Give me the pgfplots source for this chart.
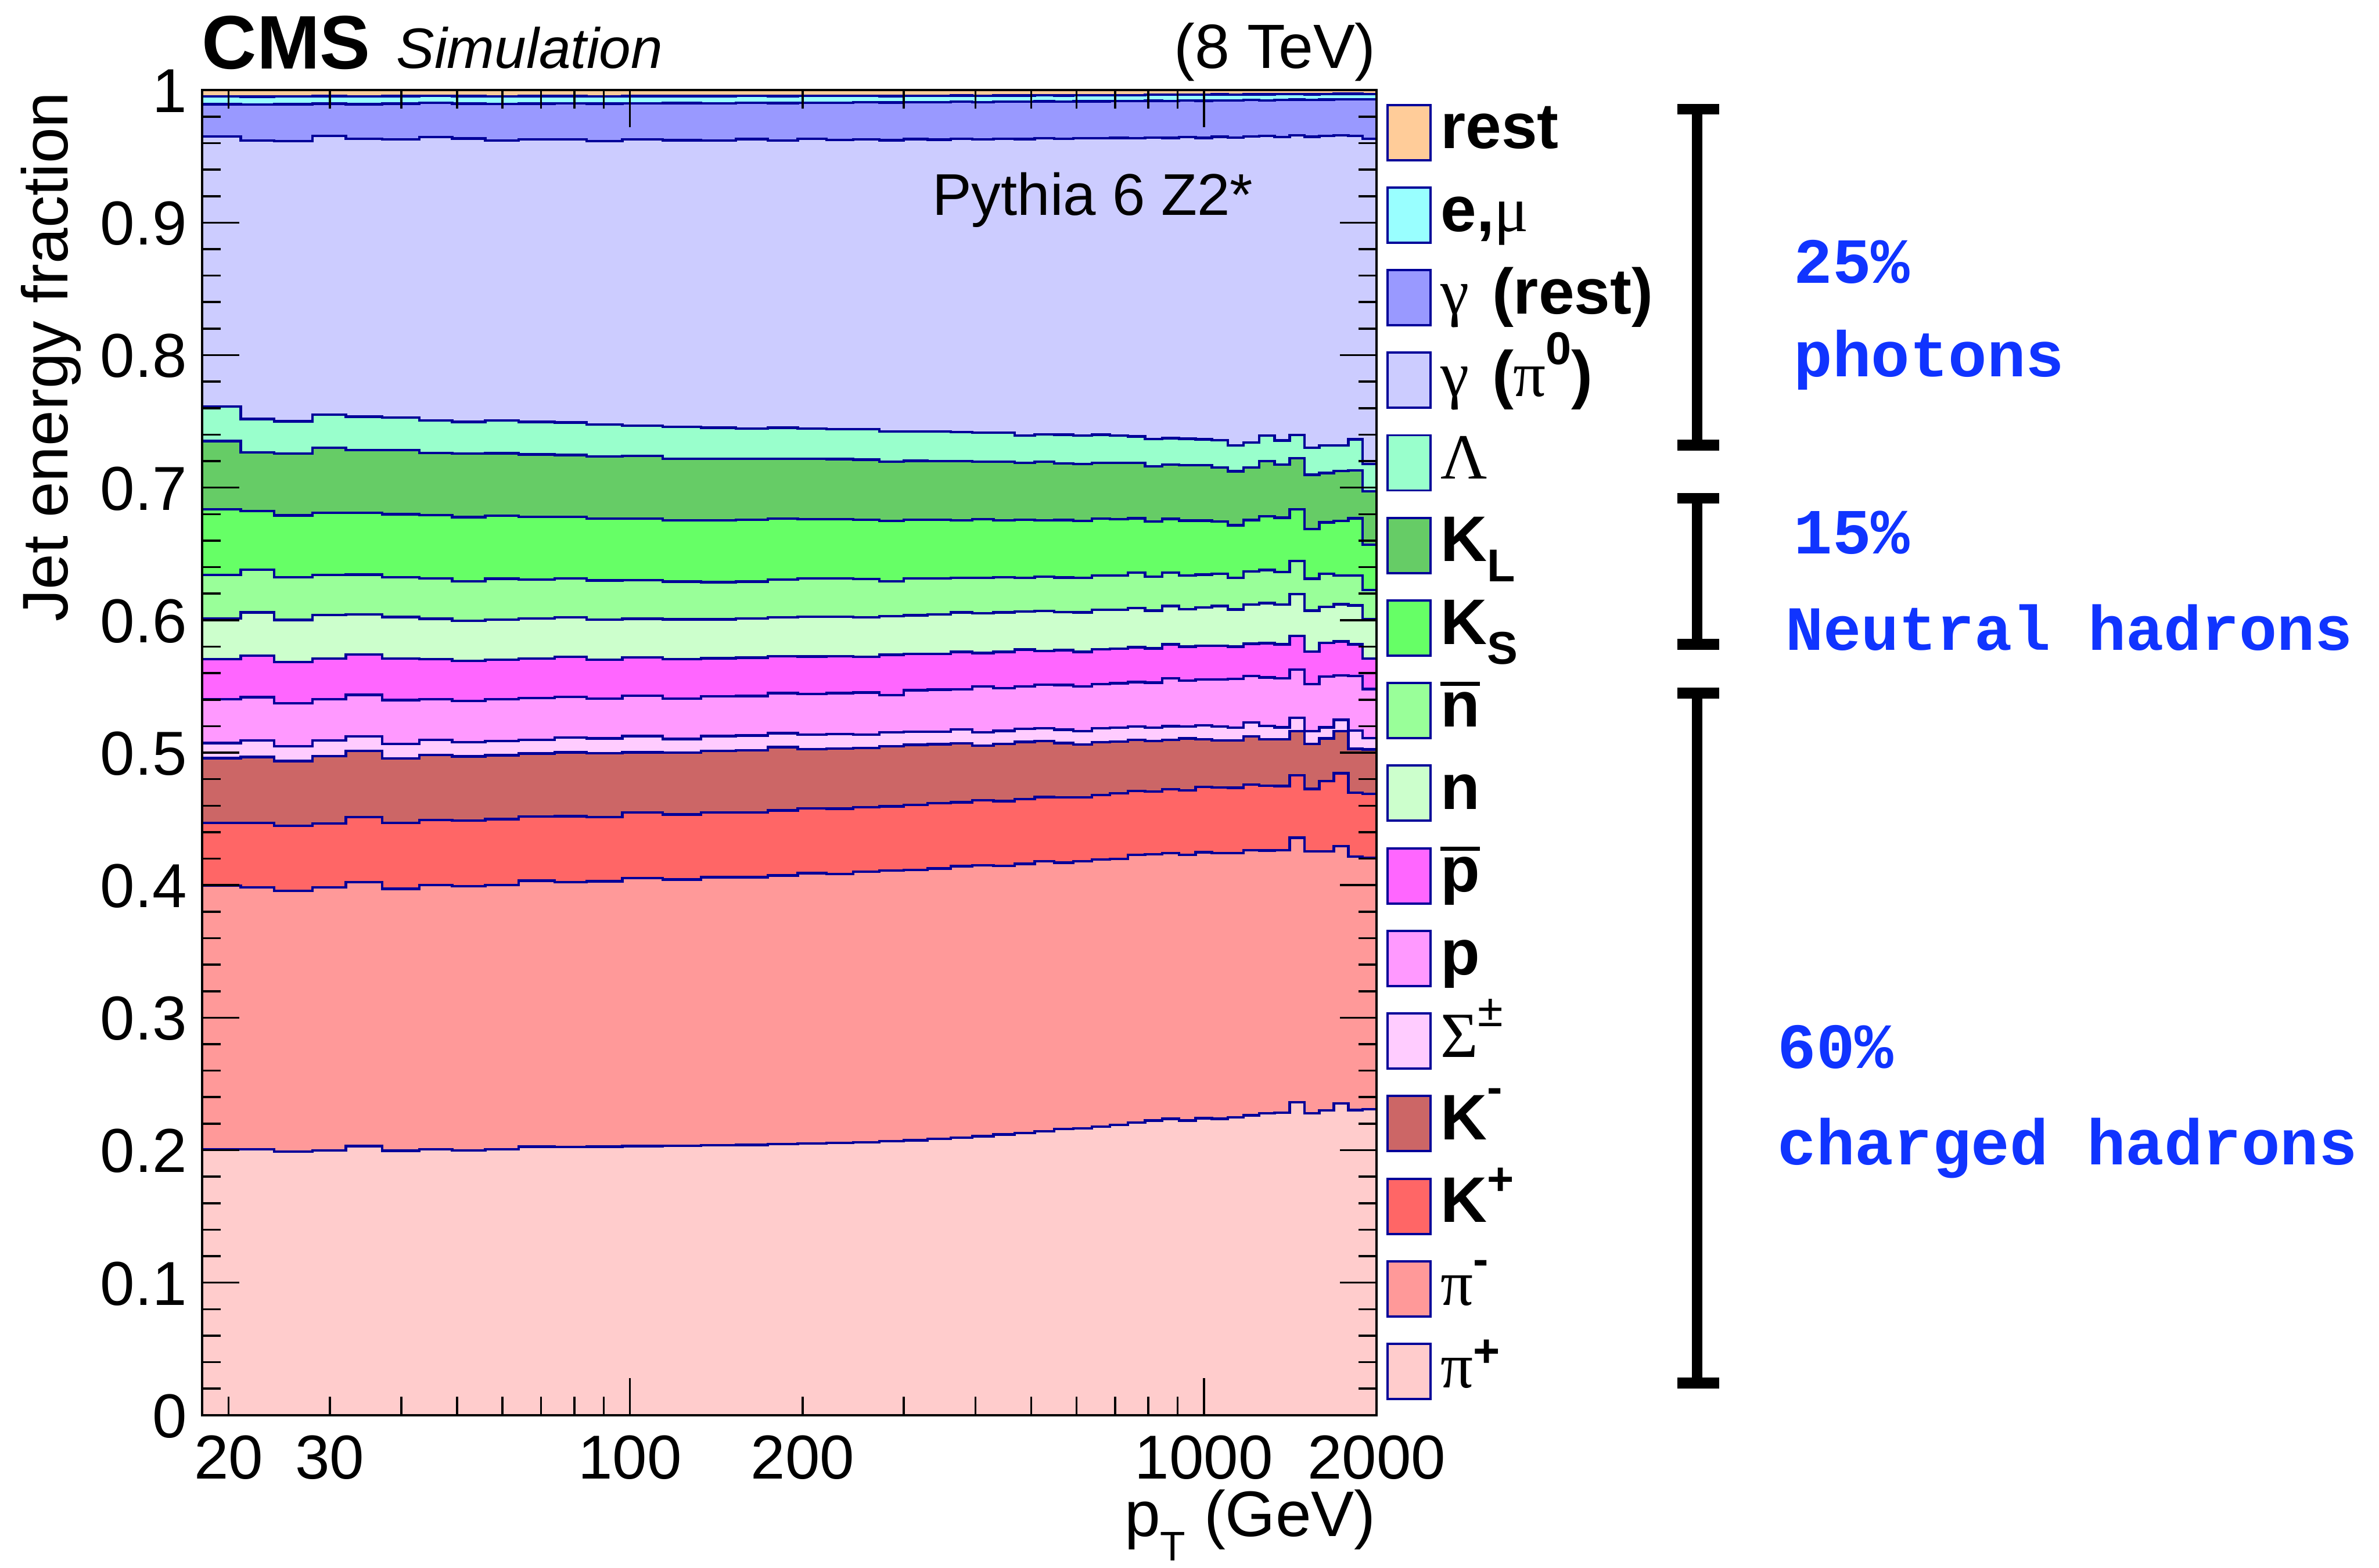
\documentclass[border=0pt]{standalone}
\usepackage{fontspec}
\setmainfont{Liberation Sans}
\newfontfamily\gr{Liberation Serif}
\newfontfamily\mono{Liberation Mono}
\usepackage{pgfplots}
\pgfplotsset{compat=1.18}
\usepackage{pgfplotstable}

\definecolor{navy}{RGB}{0,0,153}
\definecolor{tblue}{RGB}{16,52,255}
\definecolor{cRest}{HTML}{FFCC99}
\definecolor{cEmu}{HTML}{99FFFF}
\definecolor{cGrest}{HTML}{9999FF}
\definecolor{cGpi}{HTML}{CCCCFF}
\definecolor{cLam}{HTML}{99FFCC}
\definecolor{cKL}{HTML}{66CC66}
\definecolor{cKS}{HTML}{66FF66}
\definecolor{cNbar}{HTML}{99FF99}
\definecolor{cN}{HTML}{CCFFCC}
\definecolor{cPbar}{HTML}{FF66FF}
\definecolor{cP}{HTML}{FF99FF}
\definecolor{cSig}{HTML}{FFCCFF}
\definecolor{cKm}{HTML}{CC6666}
\definecolor{cKp}{HTML}{FF6666}
\definecolor{cPim}{HTML}{FF9999}
\definecolor{cPip}{HTML}{FFCCCC}

% cumulative tops of each layer, per pT bin (value held from x to next x)
\pgfplotstableread{
x    pip   pim   kp    km    sig   p     pbar  n     nbar  ks    kl    lam   gpi   grest emu   rest
18   .2008 .3996 .4471 .4958 .5073 .5402 .5707 .6013 .6340 .6836 .7351 .7611 .9650 .9893 .9952 1
21   .2006 .3982 .4471 .4967 .5091 .5418 .5733 .6058 .6380 .6824 .7267 .7518 .9619 .9890 .9950 1
24   .1990 .3956 .4447 .4936 .5049 .5373 .5684 .6002 .6324 .6791 .7256 .7500 .9614 .9893 .9952 1
28   .1998 .3982 .4465 .4973 .5091 .5404 .5711 .6038 .6340 .6809 .7302 .7551 .9655 .9898 .9955 1
32   .2031 .4022 .4513 .5013 .5124 .5436 .5740 .6044 .6344 .6809 .7284 .7536 .9633 .9893 .9952 1
37   .1995 .3973 .4471 .4956 .5067 .5396 .5709 .6024 .6324 .6800 .7284 .7529 .9627 .9898 .9955 1
43   .2008 .4000 .4491 .4982 .5096 .5404 .5707 .6011 .6316 .6793 .7262 .7507 .9645 .9905 .9958 1
49   .1998 .3993 .4487 .4971 .5078 .5389 .5693 .5996 .6293 .6778 .7256 .7496 .9635 .9898 .9955 1
56   .2008 .4000 .4498 .4980 .5087 .5402 .5700 .6004 .6313 .6789 .7260 .7507 .9619 .9896 .9952 1
64   .2027 .4033 .4518 .4993 .5096 .5411 .5711 .6013 .6307 .6780 .7251 .7496 .9627 .9898 .9955 1
74   .2025 .4024 .4520 .5002 .5113 .5422 .5722 .6020 .6316 .6780 .7247 .7491 .9627 .9900 .9955 1
84   .2027 .4029 .4515 .4996 .5107 .5409 .5702 .6004 .6300 .6767 .7236 .7476 .9616 .9898 .9952 1
97   .2030 .4053 .4549 .5003 .5125 .5430 .5718 .6010 .6303 .6767 .7239 .7467 .9627 .9900 .9955 1
114  .2033 .4042 .4533 .4999 .5103 .5408 .5705 .6006 .6291 .6754 .7217 .7460 .9622 .9902 .9955 1
133  .2037 .4060 .4549 .5014 .5125 .5424 .5712 .6006 .6287 .6754 .7217 .7452 .9619 .9900 .9955 1
153  .2040 .4060 .4549 .5019 .5130 .5428 .5716 .6013 .6291 .6759 .7217 .7447 .9630 .9905 .9958 1
174  .2045 .4073 .4564 .5041 .5147 .5450 .5727 .6021 .6305 .6765 .7219 .7452 .9619 .9903 .9955 1
196  .2050 .4091 .4580 .5025 .5136 .5444 .5725 .6026 .6314 .6761 .7217 .7447 .9632 .9905 .9958 1
220  .2055 .4084 .4577 .5032 .5140 .5450 .5727 .6026 .6314 .6761 .7215 .7440 .9625 .9905 .9958 1
245  .2060 .4102 .4587 .5036 .5136 .5453 .5723 .6021 .6310 .6759 .7212 .7440 .9628 .9908 .9958 1
272  .2067 .4110 .4595 .5047 .5154 .5435 .5738 .6030 .6294 .6750 .7195 .7423 .9622 .9906 .9955 1
300  .2075 .4115 .4606 .5059 .5158 .5472 .5745 .6037 .6314 .6759 .7203 .7425 .9630 .9910 .9958 1
330  .2085 .4126 .4618 .5063 .5158 .5475 .5745 .6044 .6314 .6759 .7201 .7425 .9626 .9908 .9958 1
362  .2095 .4143 .4626 .5070 .5176 .5479 .5760 .6059 .6320 .6752 .7199 .7420 .9632 .9912 .9960 1
395  .2105 .4149 .4642 .5054 .5154 .5501 .5751 .6053 .6320 .6761 .7197 .7416 .9628 .9910 .9958 1
430  .2118 .4146 .4634 .5065 .5165 .5486 .5760 .6059 .6323 .6754 .7197 .7414 .9633 .9913 .9960 1
468  .2130 .4161 .4649 .5081 .5180 .5501 .5778 .6066 .6320 .6759 .7186 .7394 .9630 .9912 .9960 1
507  .2143 .4180 .4665 .5087 .5185 .5512 .5767 .6070 .6327 .6752 .7195 .7403 .9636 .9915 .9962 1
548  .2159 .4170 .4664 .5073 .5173 .5511 .5773 .6062 .6322 .6756 .7182 .7400 .9634 .9914 .9960 1
592  .2164 .4181 .4662 .5062 .5162 .5500 .5760 .6058 .6318 .6749 .7178 .7393 .9638 .9916 .9962 1
638  .2179 .4195 .4679 .5080 .5184 .5518 .5780 .6078 .6338 .6767 .7187 .7400 .9636 .9915 .9962 1
686  .2190 .4199 .4692 .5084 .5189 .5524 .5784 .6078 .6338 .6762 .7187 .7393 .9640 .9918 .9962 1
737  .2208 .4228 .4712 .5096 .5196 .5533 .5796 .6091 .6358 .6769 .7187 .7387 .9637 .9917 .9962 1
790  .2223 .4232 .4706 .5089 .5189 .5529 .5787 .6071 .6329 .6744 .7160 .7367 .9642 .9920 .9965 1
846  .2237 .4241 .4723 .5096 .5200 .5560 .5818 .6107 .6360 .6764 .7173 .7373 .9640 .9918 .9965 1
905  .2223 .4230 .4715 .5107 .5196 .5544 .5800 .6084 .6336 .6751 .7169 .7369 .9645 .9921 .9965 1
967  .2241 .4248 .4741 .5100 .5207 .5551 .5807 .6096 .6344 .6751 .7169 .7364 .9640 .9920 .9965 1
1032 .2237 .4241 .4737 .5093 .5196 .5551 .5807 .6107 .6351 .6744 .7151 .7358 .9648 .9923 .9968 1
1101 .2248 .4241 .4735 .5093 .5189 .5558 .5800 .6080 .6318 .6716 .7124 .7320 .9642 .9921 .9965 1
1172 .2263 .4265 .4759 .5124 .5229 .5578 .5822 .6118 .6367 .6756 .7151 .7340 .9650 .9925 .9968 1
1248 .2279 .4261 .4750 .5102 .5202 .5567 .5827 .6129 .6378 .6784 .7200 .7393 .9655 .9923 .9968 1
1327 .2283 .4265 .4748 .5102 .5191 .5560 .5818 .6118 .6362 .6773 .7173 .7356 .9645 .9926 .9970 1
1410 .2363 .4358 .4830 .5162 .5262 .5627 .5880 .6196 .6447 .6836 .7222 .7398 .9660 .9928 .9970 1
1497 .2279 .4254 .4726 .5067 .5162 .5518 .5762 .6071 .6313 .6687 .7098 .7302 .9648 .9925 .9968 1
1588 .2301 .4254 .4785 .5107 .5191 .5573 .5829 .6100 .6351 .6738 .7111 .7320 .9655 .9928 .9970 1
1684 .2352 .4294 .4845 .5162 .5247 .5582 .5840 .6120 .6338 .6749 .7127 .7318 .9660 .9930 .9972 1
1784 .2303 .4215 .4697 .5029 .5167 .5578 .5818 .6111 .6336 .6769 .7129 .7364 .9655 .9932 .9972 1
1890 .2308 .4206 .4690 .5024 .5111 .5480 .5711 .6007 .6227 .6569 .6973 .7178 .9633 .9930 .9970 1
2000 .2308 .4206 .4690 .5024 .5111 .5480 .5711 .6007 .6227 .6569 .6973 .7178 .9633 .9930 .9970 1
}\data

\newcommand\lf{\fontsize{14bp}{16bp}\selectfont}
\newcommand\sm{\fontsize{10bp}{10bp}\selectfont\bfseries}
\newcommand\obar[1]{\setbox0\hbox{\bfseries #1}\rlap{\rule[\dimexpr\ht0+1.4bp\relax]{\wd0}{0.9bp}}\box0}
\newcommand\bt{\mono\bfseries\fontsize{14bp}{14bp}\selectfont}

\newcommand\legitem[3]{%
  \pgfmathsetmacro\yc{312.1-17.96*#1}%
  \filldraw[fill=#2, draw=navy, line width=0.5bp] (301.6bp,{\yc bp-6bp}) rectangle (311.0bp,{\yc bp+6bp});
  \node[anchor=base west, inner sep=0pt] at (313.0bp,{\yc bp-3.5bp}) {\lf #3};
}
\newcommand\bracket[2]{%
  \draw[line width=2.3bp] (364.6bp,#1) -- (373.7bp,#1);
  \draw[line width=2.3bp] (364.6bp,#2) -- (373.7bp,#2);
  \draw[line width=2.3bp] (369.0bp,#1) -- (369.0bp,#2);
}

\begin{document}
\begin{tikzpicture}
\useasboundingbox (0,0) rectangle (517.2bp,340.9bp);
\begin{axis}[
  at={(44bp,33.2bp)}, anchor=south west,
  width=255.3bp, height=288.1bp, scale only axis,
  xmode=log, xmin=18, xmax=2000, ymin=0, ymax=1,
  axis on top,
  axis line style={line width=0.5bp},
  tick align=inside, tick pos=both,
  xtick={100,1000}, xticklabels={100,1000},
  minor xtick={20,30,40,50,60,70,80,90,200,300,400,500,600,700,800,900,2000},
  extra x ticks={20,30,200,2000}, extra x tick labels={20,30,200,2000},
  extra x tick style={major tick length=3.6bp},
  ytick={0,0.1,0.2,0.3,0.4,0.5,0.6,0.7,0.8,0.9,1},
  minor y tick num=4,
  major tick length=8bp, minor tick length=4bp,
  every tick/.style={line width=0.45bp, black},
  /pgf/number format/assume math mode=true,
  ticklabel style={font=\fontsize{13.5bp}{13.5bp}\selectfont},
  xticklabel style={anchor=north, inner sep=0pt, text height=9.7bp, text depth=0pt, yshift=-4bp},
  yticklabel style={anchor=east, inner sep=0pt, text height=9.7bp, text depth=0pt, xshift=-3.2bp},
  bline/.style={const plot, color=navy, line width=0.55bp, mark=none, line join=miter},
]
\addplot[const plot, fill=cRest,  draw=none] table[x=x,y=rest]{\data} \closedcycle;
\addplot[const plot, fill=cEmu,   draw=none] table[x=x,y=emu]{\data} \closedcycle;
\addplot[const plot, fill=cGrest, draw=none] table[x=x,y=grest]{\data} \closedcycle;
\addplot[const plot, fill=cGpi,   draw=none] table[x=x,y=gpi]{\data} \closedcycle;
\addplot[const plot, fill=cLam,   draw=none] table[x=x,y=lam]{\data} \closedcycle;
\addplot[const plot, fill=cKL,    draw=none] table[x=x,y=kl]{\data} \closedcycle;
\addplot[const plot, fill=cKS,    draw=none] table[x=x,y=ks]{\data} \closedcycle;
\addplot[const plot, fill=cNbar,  draw=none] table[x=x,y=nbar]{\data} \closedcycle;
\addplot[const plot, fill=cN,     draw=none] table[x=x,y=n]{\data} \closedcycle;
\addplot[const plot, fill=cPbar,  draw=none] table[x=x,y=pbar]{\data} \closedcycle;
\addplot[const plot, fill=cP,     draw=none] table[x=x,y=p]{\data} \closedcycle;
\addplot[const plot, fill=cSig,   draw=none] table[x=x,y=sig]{\data} \closedcycle;
\addplot[const plot, fill=cKm,    draw=none] table[x=x,y=km]{\data} \closedcycle;
\addplot[const plot, fill=cKp,    draw=none] table[x=x,y=kp]{\data} \closedcycle;
\addplot[const plot, fill=cPim,   draw=none] table[x=x,y=pim]{\data} \closedcycle;
\addplot[const plot, fill=cPip,   draw=none] table[x=x,y=pip]{\data} \closedcycle;
\addplot[bline] table[x=x,y=emu]{\data};
\addplot[bline] table[x=x,y=grest]{\data};
\addplot[bline] table[x=x,y=gpi]{\data};
\addplot[bline] table[x=x,y=lam]{\data};
\addplot[bline] table[x=x,y=kl]{\data};
\addplot[bline] table[x=x,y=ks]{\data};
\addplot[bline] table[x=x,y=nbar]{\data};
\addplot[bline] table[x=x,y=n]{\data};
\addplot[bline] table[x=x,y=pbar]{\data};
\addplot[bline] table[x=x,y=p]{\data};
\addplot[bline] table[x=x,y=sig]{\data};
\addplot[bline] table[x=x,y=km]{\data};
\addplot[bline] table[x=x,y=kp]{\data};
\addplot[bline] table[x=x,y=pim]{\data};
\addplot[bline] table[x=x,y=pip]{\data};
\end{axis}

% titles and axis labels
\node[anchor=base west, inner sep=0pt] at (43.7bp,325.9bp) {\fontsize{16.5bp}{16.5bp}\selectfont\bfseries CMS};
\node[anchor=base west, inner sep=0pt] at (86.0bp,326.0bp) {\fontsize{12.4bp}{12.4bp}\selectfont\itshape Simulation};
\node[anchor=base east, inner sep=0pt] at (299.3bp,326.0bp) {\fontsize{13.6bp}{13.6bp}\selectfont (8 TeV)};
\node[anchor=base west, inner sep=0pt] at (202.5bp,294.1bp) {\fontsize{12.8bp}{12.8bp}\selectfont Pythia 6 Z2*};
\node[anchor=base east, inner sep=0pt, text height=9.6bp] at (299.3bp,6.9bp) {\fontsize{14bp}{14bp}\selectfont p\raisebox{-5.3bp}{\fontsize{9bp}{9bp}\selectfont T}\hspace{4bp}(GeV)};
\node[rotate=90, anchor=base east, inner sep=0pt] at (14.7bp,321.1bp) {\fontsize{14bp}{14bp}\selectfont Jet energy fraction};

% legend
\legitem{0}{cRest}{\textbf{rest}}
\legitem{1}{cEmu}{\textbf{e,}{\gr μ}}
\legitem{2}{cGrest}{{\gr γ}\hspace{5bp}\textbf{(rest)}}
\legitem{3}{cGpi}{{\gr γ}\hspace{5bp}\textbf{(}{\gr π}\raisebox{7bp}{\sm 0}\textbf{)}}
\legitem{4}{cLam}{{\gr Λ}}
\legitem{5}{cKL}{\textbf{K}\raisebox{-4.3bp}{\sm L}}
\legitem{6}{cKS}{\textbf{K}\raisebox{-4.3bp}{\sm S}}
\legitem{7}{cNbar}{\obar{n}}
\legitem{8}{cN}{\textbf{n}}
\legitem{9}{cPbar}{\obar{p}}
\legitem{10}{cP}{\textbf{p}}
\legitem{11}{cSig}{{\gr Σ}\raisebox{6.7bp}{\fontsize{10bp}{10bp}\selectfont ±}}
\legitem{12}{cKm}{\textbf{K}\raisebox{8bp}{\sm -}}
\legitem{13}{cKp}{\textbf{K}\raisebox{6bp}{\sm +}}
\legitem{14}{cPim}{{\gr π}\raisebox{6.5bp}{\sm -}}
\legitem{15}{cPip}{{\gr π}\raisebox{4.5bp}{\sm +}}

% brackets and group labels
\bracket{317.2bp}{244.1bp}
\bracket{232.6bp}{200.8bp}
\bracket{190.2bp}{40.2bp}
\node[anchor=base west, inner sep=0pt, text=tblue] at (389.8bp,279.4bp) {\bt 25\%};
\node[anchor=base west, inner sep=0pt, text=tblue] at (389.8bp,259.0bp) {\bt photons};
\node[anchor=base west, inner sep=0pt, text=tblue] at (389.8bp,220.5bp) {\bt 15\%};
\node[anchor=base west, inner sep=0pt, text=tblue] at (388.0bp,199.6bp) {\fontsize{13.7bp}{14bp}\mono\bfseries Neutral hadrons};
\node[anchor=base west, inner sep=0pt, text=tblue] at (386.3bp,108.6bp) {\bt 60\%};
\node[anchor=base west, inner sep=0pt, text=tblue] at (386.3bp,87.7bp) {\bt charged hadrons};
\end{tikzpicture}
\end{document}
